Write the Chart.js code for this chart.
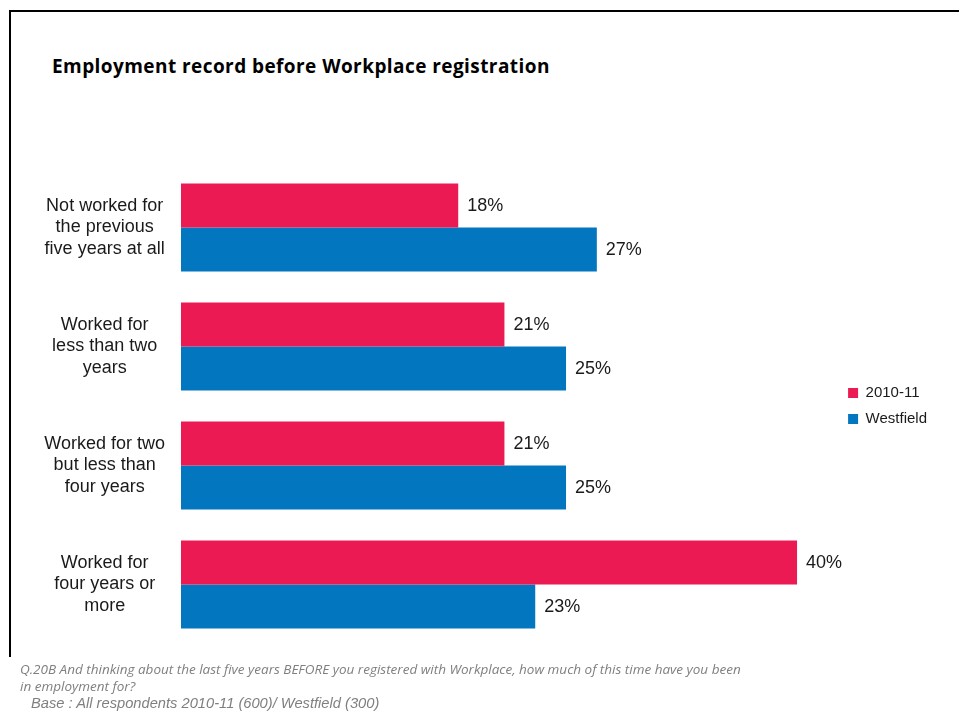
<!DOCTYPE html>
<html>
<head>
<meta charset="utf-8">
<script src="https://cdn.jsdelivr.net/npm/chart.js@4"></script>
<style>
  html, body { margin: 0; padding: 0; background: #fff; }
  body { width: 959px; height: 711px; position: relative; overflow: hidden; }
  #frame { position: absolute; left: 9px; top: 10px; width: 960px; height: 645px;
           border-top: 2px solid #000; border-left: 2px solid #000; }
  #title { position: absolute; left: 52px; top: 53px; font: bold 19px "Open Sans", sans-serif;
           letter-spacing: 0.43px; color: #000; white-space: nowrap; }
  #wrap { position: absolute; left: 0; top: 0; width: 959px; height: 711px; }
  .note { position: absolute; font-family: "Open Sans", sans-serif; font-style: italic;
          color: #7f7f7f; white-space: nowrap; }
  #q1 { left: 20px; top: 660px; font-size: 13.5px; }
  #q2 { left: 20px; top: 677px; font-size: 13.5px; }
  #base { left: 31px; top: 695px; font-family: "Liberation Sans", sans-serif; font-size: 14.7px; }
</style>
</head>
<body>
<div id="frame"></div>
<div id="title">Employment record before Workplace registration</div>
<div id="wrap"><canvas id="myChart"></canvas></div>
<div class="note" id="q1">Q.20B And thinking about the last five years BEFORE you registered with Workplace, how much of this time have you been</div>
<div class="note" id="q2">in employment for?</div>
<div class="note" id="base">Base : All respondents 2010-11 (600)/ Westfield (300)</div>
<script>
var categories = [
    ['Not worked for', 'the previous', 'five years at all'],
    ['Worked for', 'less than two', 'years'],
    ['Worked for two', 'but less than', 'four years'],
    ['Worked for', 'four years or', 'more']
];
var seriesNames = ['2010-11', 'Westfield'];
var values2010 = [18, 21, 21, 40];
var valuesWestfield = [27, 25, 25, 23];

// percentage text at the end of each bar
var barValueLabels = {
    id: 'barValueLabels',
    afterDatasetsDraw: function (chart) {
        var ctx = chart.ctx;
        ctx.save();
        ctx.font = '18px "Liberation Sans", Arial, sans-serif';
        ctx.fillStyle = '#1a1a1a';
        ctx.textAlign = 'left';
        ctx.textBaseline = 'middle';
        chart.data.datasets.forEach(function (ds, i) {
            chart.getDatasetMeta(i).data.forEach(function (bar, j) {
                ctx.fillText(ds.data[j] + '%', bar.x + 9, bar.y + 1);
            });
        });
        ctx.restore();
    }
};

window.onload = function () {
    var ctx = document.getElementById('myChart').getContext('2d');
    var config = {
        type: 'bar',
        data: {
            labels: categories,
            datasets: [{
                label: seriesNames[0],
                data: values2010,
                backgroundColor: '#ec1a52'
            }, {
                label: seriesNames[1],
                data: valuesWestfield,
                backgroundColor: '#0276bf'
            }]
        },
        options: {
            indexAxis: 'y',
            responsive: true,
            maintainAspectRatio: false,
            animation: false,
            categoryPercentage: 0.74,
            barPercentage: 1,
            layout: {
                padding: { top: 168, bottom: 67, left: 0, right: 22 }
            },
            scales: {
                x: {
                    display: false,
                    min: 0,
                    max: 42.6
                },
                y: {
                    grid: { display: false },
                    border: { display: false },
                    afterFit: function (scale) { scale.width = 181; },
                    ticks: {
                        crossAlign: 'center',
                        padding: 8,
                        color: '#1a1a1a',
                        font: { family: '"Liberation Sans", Arial, sans-serif', size: 18, lineHeight: 1.17 }
                    }
                }
            },
            plugins: {
                legend: {
                    position: 'right',
                    labels: {
                        boxWidth: 10,
                        boxHeight: 10,
                        padding: 11,
                        color: '#1a1a1a',
                        font: { family: '"Liberation Sans", Arial, sans-serif', size: 15 }
                    }
                },
                tooltip: { enabled: false }
            }
        },
        plugins: [barValueLabels]
    };
    window.myBars = new Chart(ctx, config);
};
</script>
</body>
</html>
